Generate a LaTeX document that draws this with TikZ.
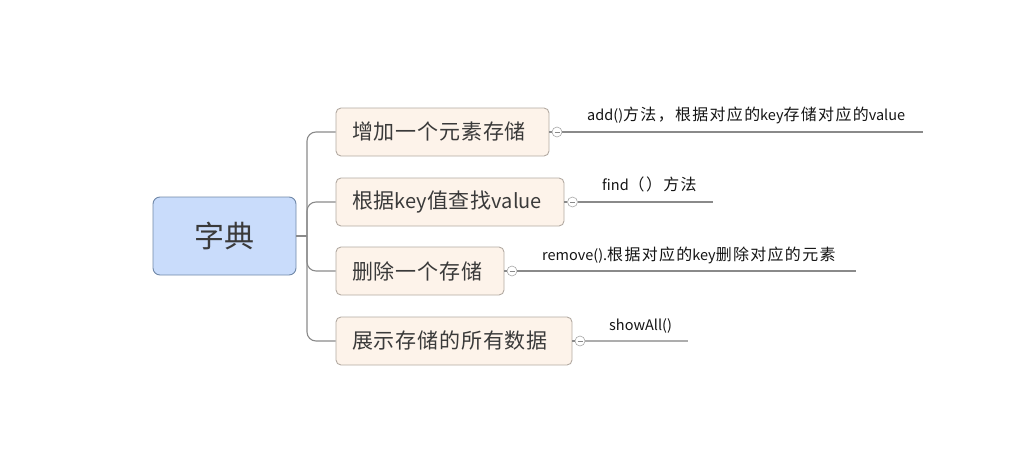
\documentclass[tikz,border=0pt]{standalone}
\usepackage{fontspec}
\setmainfont{Noto Sans CJK SC}
\newfontfamily\cjkl[LetterSpace=8.5,Scale=1.1]{Noto Sans CJK SC}
\newfontfamily\cjkb[LetterSpace=4,Scale=1.05]{Noto Sans CJK SC}
\definecolor{rootfill}{HTML}{C9DCFB}
\definecolor{rootdraw}{HTML}{7088A8}
\definecolor{kidfill}{HTML}{FDF3EA}
\definecolor{kiddraw}{HTML}{B3AAA2}
\definecolor{linec}{HTML}{8A8A8A}
\definecolor{txt}{HTML}{3A3A3A}
\definecolor{lbl}{HTML}{141414}
\tikzset{
  rootbox/.style={draw=rootdraw, fill=rootfill, rounded corners=7, line width=0.9pt,
    minimum width=143, minimum height=78, inner sep=0pt, text=txt, font=\fontsize{30}{34}\selectfont},
  kidbox/.style={draw=kiddraw, fill=kidfill, rounded corners=5, line width=0.9pt,
    minimum height=48, inner ysep=0pt, inner xsep=16pt, align=left, text=txt, font=\fontsize{20}{24}\selectfont},
  knob/.style={circle, draw=linec!75, fill=white, line width=0.6pt, minimum size=10, inner sep=0pt,
    path picture={\draw[linec, line width=0.6pt] ([xshift=-2.5pt]path picture bounding box.center) -- ([xshift=2.5pt]path picture bounding box.center);}},
  conn/.style={draw=linec, line width=1.1pt},
  lbltext/.style={anchor=base west, inner sep=0pt, text=lbl, font=\fontsize{14.5}{17}\selectfont},
}
\begin{document}
\begin{tikzpicture}[x=1pt,y=-1pt]
\useasboundingbox (0,0) rectangle (1020,460);
\node[rootbox] (root) at (224.5,236) {字典};
\node[kidbox, text width=181] (n1) at (442.5,132) {{\cjkb 增加一个元素存储}};
\node[kidbox, text width=196] (n2) at (450,202) {{\cjkb 根据}key{\cjkb 值查找}value};
\node[kidbox, text width=136] (n3) at (420,271) {{\cjkb 删除一个存储}};
\node[kidbox, text width=204] (n4) at (454,341) {{\cjkb 展示存储的所有数据}};
\coordinate (j) at (307,236);
\draw[conn] (root.east) -- (j);
\draw[conn, rounded corners=9] (j) |- (n1.west);
\draw[conn, rounded corners=9] (j) |- (n2.west);
\draw[conn, rounded corners=9] (j) |- (n3.west);
\draw[conn, rounded corners=9] (j) |- (n4.west);
% knobs
\node[knob] (k1) at (557,132) {};
\node[knob] (k2) at (572.5,202) {};
\node[knob] (k3) at (512,271) {};
\node[knob] (k4) at (580,341) {};
\coordinate (e1) at (923,132);
\coordinate (e2) at (713,202);
\coordinate (e3) at (856,271);
\coordinate (e4) at (688,341);
\draw[conn] (n1.east) -- (k1.west);
\draw[conn] (n2.east) -- (k2.west);
\draw[conn] (n3.east) -- (k3.west);
\draw[conn] (n4.east) -- (k4.west);
\draw[conn] (k1.east) -- (e1);
\draw[conn] (k2.east) -- (e2);
\draw[conn] (k3.east) -- (e3);
\draw[conn, draw=linec!70] (k4.east) -- (e4);
% labels
\node[lbltext] (t1) at (587,121) {add(){\cjkl 方法，根据对应的}key{\cjkl 存储对应的}value};
\node[lbltext] (t2) at (602,190) {find{\cjkl （）方法}};
\node[lbltext] (t3) at (542,260) {remove().{\cjkl 根据对应的}key{\cjkl 删除对应的元素}};
\node[lbltext] (t4) at (609,330) {showAll()};
\end{tikzpicture}
\end{document}
